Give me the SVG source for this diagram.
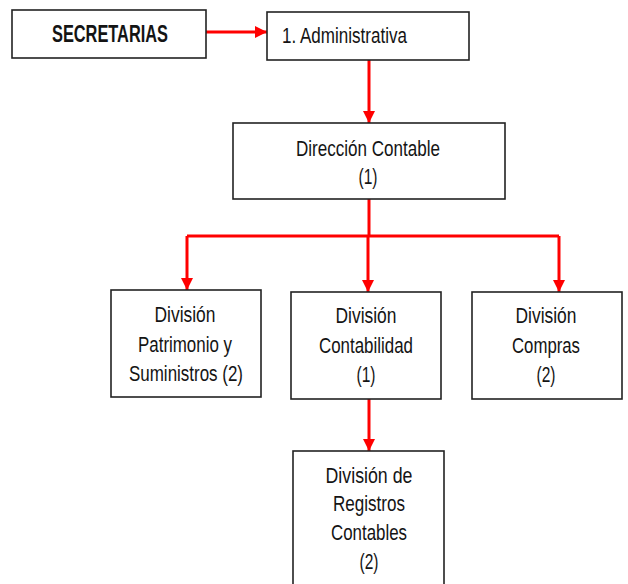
<svg xmlns="http://www.w3.org/2000/svg" width="628" height="584" viewBox="0 0 628 584">
<defs>
<style>
.box{fill:#fff;stroke:#222;stroke-width:1.6}
.t{font-family:"Liberation Sans",Arial,sans-serif;font-size:22.5px;fill:#141414;text-anchor:middle}
.b{font-weight:bold;font-size:24px}
.c{fill:none;stroke:#f00;stroke-width:3}
</style>
<marker id="ah" markerUnits="userSpaceOnUse" markerWidth="12" markerHeight="12" viewBox="0 0 12 12" refX="12" refY="6" orient="auto">
<path d="M0,0 L12,6 L0,12 Z" fill="#f00"/>
</marker>
</defs>
<g id="connectors">
<path class="c" d="M206,32 H267" marker-end="url(#ah)"/>
<path class="c" d="M369,60 V123" marker-end="url(#ah)"/>
<path class="c" d="M369,199 V236"/>
<path class="c" d="M187,236 H559"/>
<path class="c" d="M187,236 V290" marker-end="url(#ah)"/>
<path class="c" d="M368,236 V292" marker-end="url(#ah)"/>
<path class="c" d="M559,236 V292" marker-end="url(#ah)"/>
<path class="c" d="M369,399 V451" marker-end="url(#ah)"/>
</g>
<g id="secretarias">
<rect class="box" x="12" y="10" width="194" height="48"/>
<text class="t b" x="110" y="42" textLength="116" lengthAdjust="spacingAndGlyphs">SECRETARIAS</text>
</g>
<g id="administrativa">
<rect class="box" x="267" y="12" width="202" height="48"/>
<text class="t" x="344.5" y="43" textLength="125" lengthAdjust="spacingAndGlyphs">1. Administrativa</text>
</g>
<g id="direccion">
<rect class="box" x="233" y="123" width="272" height="76"/>
<text class="t" x="368" y="156" textLength="144" lengthAdjust="spacingAndGlyphs">Dirección Contable</text>
<text class="t" x="368" y="184" textLength="19" lengthAdjust="spacingAndGlyphs">(1)</text>
</g>
<g id="patrimonio">
<rect class="box" x="111" y="290" width="150" height="107"/>
<text class="t" x="185" y="322" textLength="61" lengthAdjust="spacingAndGlyphs">División</text>
<text class="t" x="185" y="352" textLength="94" lengthAdjust="spacingAndGlyphs">Patrimonio y</text>
<text class="t" x="186" y="381" textLength="114" lengthAdjust="spacingAndGlyphs">Suministros (2)</text>
</g>
<g id="contabilidad">
<rect class="box" x="291" y="292" width="150" height="107"/>
<text class="t" x="366" y="323" textLength="61" lengthAdjust="spacingAndGlyphs">División</text>
<text class="t" x="366" y="353" textLength="94" lengthAdjust="spacingAndGlyphs">Contabilidad</text>
<text class="t" x="366" y="382" textLength="19" lengthAdjust="spacingAndGlyphs">(1)</text>
</g>
<g id="compras">
<rect class="box" x="472" y="292" width="150" height="107"/>
<text class="t" x="546" y="323" textLength="61" lengthAdjust="spacingAndGlyphs">División</text>
<text class="t" x="546" y="353" textLength="68" lengthAdjust="spacingAndGlyphs">Compras</text>
<text class="t" x="546" y="382" textLength="19" lengthAdjust="spacingAndGlyphs">(2)</text>
</g>
<g id="registros">
<rect class="box" x="293" y="451" width="151" height="150"/>
<text class="t" x="369" y="483" textLength="87" lengthAdjust="spacingAndGlyphs">División de</text>
<text class="t" x="369" y="511" textLength="72" lengthAdjust="spacingAndGlyphs">Registros</text>
<text class="t" x="369" y="540" textLength="76" lengthAdjust="spacingAndGlyphs">Contables</text>
<text class="t" x="369" y="569" textLength="19" lengthAdjust="spacingAndGlyphs">(2)</text>
</g>
</svg>
